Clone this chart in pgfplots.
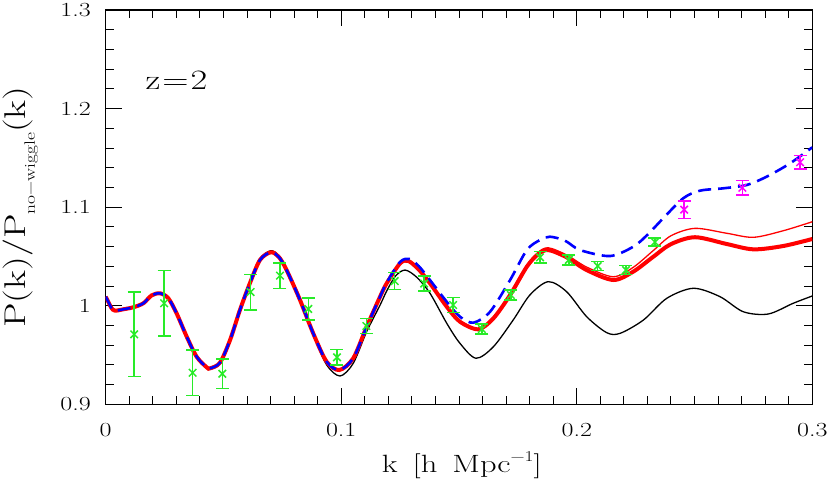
\documentclass[border=0pt]{standalone}
\usepackage{fontspec}
\setmainfont{Latin Modern Roman}[FakeStretch=1.3]
\usepackage{pgfplots}
\pgfplotsset{compat=1.18}
\usepackage{pgfplotstable}

\definecolor{ptgreen}{RGB}{40,235,40}
\definecolor{ptmag}{RGB}{255,0,255}

\pgfplotstableread{
k y
0 1.0092
0.0012 1.0035
0.0025 0.9975
0.0040 0.9950
0.0075 0.9964
0.0117 0.9984
0.0160 1.0025
0.0195 1.0105
0.0231 1.0126
0.0266 1.0075
0.0301 0.9923
0.0344 0.9686
0.0386 0.9483
0.0429 0.9375
0.0443 0.9365
0.0485 0.9422
0.0528 0.9652
0.0570 0.9957
0.0612 1.0227
0.0655 1.0464
0.0701 1.0542
0.0735 1.0495
0.0768 1.0362
0.0825 1.0058
0.0881 0.9720
0.0938 0.9432
0.0992 0.9348
0.1051 0.9467
0.1108 0.9787
0.1165 1.0092
0.1193 1.0227
0.1250 1.0430
0.1285 1.0454
0.1330 1.0365
0.1377 1.0227
0.1448 0.9990
0.1504 0.9838
0.1582 0.9761
0.1646 0.9872
0.1717 1.0109
0.1788 1.0396
0.1835 1.0520
0.1879 1.0565
0.1957 1.0491
0.2042 1.0362
0.2155 1.0261
0.2240 1.0346
0.2325 1.0497
0.2400 1.0625
0.2502 1.0695
0.2637 1.0626
0.2750 1.0572
0.2877 1.0606
0.3000 1.0677
}\redthick

\pgfplotstableread{
k y
0 1.0092
0.0012 1.0035
0.0025 0.9975
0.0040 0.9950
0.0075 0.9964
0.0117 0.9984
0.0160 1.0025
0.0195 1.0105
0.0231 1.0126
0.0266 1.0075
0.0301 0.9923
0.0344 0.9686
0.0386 0.9483
0.0429 0.9375
0.0443 0.9365
0.0485 0.9422
0.0528 0.9652
0.0570 0.9957
0.0612 1.0227
0.0655 1.0464
0.0701 1.0542
0.0735 1.0495
0.0768 1.0362
0.0825 1.0058
0.0881 0.9720
0.0938 0.9432
0.0992 0.9348
0.1051 0.9467
0.1108 0.9787
0.1165 1.0092
0.1193 1.0227
0.1250 1.0430
0.1285 1.0454
0.1330 1.0365
0.1377 1.0227
0.1448 0.9990
0.1504 0.9838
0.1582 0.9761
0.1646 0.9872
0.1717 1.0109
0.1788 1.0405
0.1835 1.0540
0.1879 1.0588
0.1957 1.0515
0.2042 1.0392
0.2155 1.0294
0.2240 1.0390
0.2325 1.0560
0.2400 1.0710
0.2502 1.0785
0.2637 1.0735
0.2750 1.0694
0.2877 1.0761
0.3000 1.0852
}\redthin

\pgfplotstableread{
k y
0 1.0092
0.0012 1.0035
0.0025 0.9975
0.0040 0.9950
0.0075 0.9964
0.0117 0.9984
0.0160 1.0025
0.0195 1.0105
0.0231 1.0126
0.0266 1.0075
0.0301 0.9923
0.0344 0.9686
0.0386 0.9483
0.0429 0.9375
0.0443 0.9365
0.0485 0.9422
0.0528 0.9652
0.0570 0.9957
0.0612 1.0227
0.0655 1.0464
0.0701 1.0542
0.0735 1.0495
0.0768 1.0362
0.0825 1.0058
0.0881 0.9720
0.0938 0.9432
0.0992 0.9348
0.1051 0.9467
0.1108 0.9787
0.1165 1.0092
0.1193 1.0235
0.1250 1.0445
0.1290 1.0474
0.1330 1.0400
0.1377 1.0260
0.1448 1.0040
0.1504 0.9889
0.1561 0.9828
0.1632 0.9939
0.1717 1.0261
0.1788 1.0565
0.1844 1.0667
0.1886 1.0700
0.1950 1.0660
0.2014 1.0565
0.2141 1.0504
0.2240 1.0599
0.2300 1.0720
0.2367 1.0887
0.2452 1.1090
0.2523 1.1167
0.2622 1.1191
0.2722 1.1225
0.2806 1.1309
0.2906 1.1445
0.3000 1.1607
}\bluedash

\pgfplotstableread{
k y
0 1.0095
0.0012 1.0038
0.0025 0.9978
0.0040 0.9950
0.0075 0.9966
0.0117 0.9988
0.0160 1.0030
0.0195 1.0110
0.0231 1.0132
0.0266 1.0082
0.0301 0.9930
0.0344 0.9690
0.0386 0.9480
0.0429 0.9365
0.0443 0.9355
0.0485 0.9410
0.0528 0.9645
0.0570 0.9960
0.0612 1.0237
0.0655 1.0478
0.0701 1.0558
0.0735 1.0510
0.0768 1.0375
0.0825 1.0055
0.0881 0.9705
0.0938 0.9400
0.0995 0.9287
0.1051 0.9416
0.1108 0.9737
0.1165 1.0007
0.1193 1.0150
0.1230 1.0300
0.1271 1.0362
0.1320 1.0290
0.1377 1.0126
0.1448 0.9822
0.1504 0.9619
0.1572 0.9467
0.1646 0.9584
0.1730 0.9855
0.1801 1.0109
0.1879 1.0244
0.1957 1.0142
0.2042 0.9889
0.2127 0.9727
0.2184 0.9720
0.2283 0.9855
0.2382 1.0075
0.2495 1.0177
0.2608 1.0092
0.2707 0.9939
0.2813 0.9916
0.2919 1.0025
0.3000 1.0099
}\blackline

\pgfplotstableread{
k p e
0.0121 0.9710 0.0430
0.0248 1.0025 0.0330
0.0369 0.9320 0.0230
0.0495 0.9310 0.0150
0.0615 1.0139 0.0180
0.0740 1.0305 0.0130
0.0860 0.9967 0.0110
0.0982 0.9477 0.0080
0.1107 0.9794 0.0075
0.1227 1.0250 0.0085
0.1352 1.0225 0.0075
0.1475 1.0007 0.0075
0.1597 0.9764 0.0050
0.1720 1.0109 0.0050
0.1844 1.0491 0.0060
0.1966 1.0464 0.0050
0.2089 1.0403 0.0045
0.2209 1.0362 0.0045
0.2332 1.0646 0.0040
}\greenpts

\pgfplotstableread{
k p e
0.2456 1.0975 0.0088
0.2703 1.1197 0.0075
0.2948 1.1455 0.0068
}\magpts

\begin{document}
\begin{tikzpicture}
\begin{axis}[
  at={(0pt,0pt)}, anchor=south west,
  scale only axis, width=706.6pt, height=394.3pt,
  xmin=0, xmax=0.3, ymin=0.9, ymax=1.3,
  xtick={0,0.1,0.2,0.3}, xticklabels={0,0.1,0.2,0.3},
  ytick={0.9,1,1.1,1.2,1.3}, yticklabels={0.9,1,1.1,1.2,1.3},
  minor x tick num=9, minor y tick num=4,
  tick align=inside,
  major tick length=16pt, minor tick length=8pt,
  every tick/.style={black, line width=1pt},
  axis line style={line width=1.2pt},
  xticklabel style={font=\fontsize{20}{24}\selectfont, anchor=north, inner sep=0pt, yshift=-18.7pt},
  yticklabel style={font=\fontsize{20}{24}\selectfont, anchor=east, inner sep=0pt, xshift=-14.7pt},
  xlabel={k\hspace{15pt}[h\hspace{15pt}Mpc\raisebox{0.42em}{\fontsize{15}{18}\selectfont −1}]},
  xlabel style={font=\fontsize{25}{30}\selectfont, at={(axis description cs:0.504,-0.1717)}, anchor=base, inner sep=0pt},
  ylabel={P(k)/P\raisebox{-0.3em}{\fontsize{15}{18}\selectfont no−wiggle}(k)},
  ylabel style={font=\fontsize{30}{36}\selectfont, at={(axis description cs:-0.1128,0.5)}, anchor=base, inner sep=0pt},
]
\addplot[black, line width=1.3pt, smooth] table[x=k, y=y] {\blackline};
\addplot[red, line width=1.3pt, smooth] table[x=k, y=y] {\redthin};
\addplot[red, line width=4pt, smooth] table[x=k, y=y] {\redthick};
\addplot[blue, line width=2.6pt, smooth, dash pattern=on 13pt off 7pt] table[x=k, y=y] {\bluedash};

\addplot[ptgreen, only marks, mark=x, mark size=5.3pt, mark options={line width=1.5pt},
  error bars/.cd, y dir=both, y explicit,
  error bar style={line width=1.5pt, ptgreen},
  error mark options={ptgreen, rotate=90, mark size=6.5pt, line width=1.5pt}]
  table[x=k, y=p, y error=e] {\greenpts};
\addplot[ptmag, only marks, mark=x, mark size=5.3pt, mark options={line width=1.5pt},
  error bars/.cd, y dir=both, y explicit,
  error bar style={line width=1.5pt, ptmag},
  error mark options={ptmag, rotate=90, mark size=6.5pt, line width=1.5pt}]
  table[x=k, y=p, y error=e] {\magpts};

\node[font=\fontsize{28}{34}\selectfont, inner sep=0pt] at (axis cs:0.0301,1.229) {z\kern2pt=\kern2pt2};
\end{axis}
\pgfresetboundingbox
\useasboundingbox (-105.7pt,-78.7pt) rectangle (724.3pt,404.3pt);
\end{tikzpicture}
\end{document}
